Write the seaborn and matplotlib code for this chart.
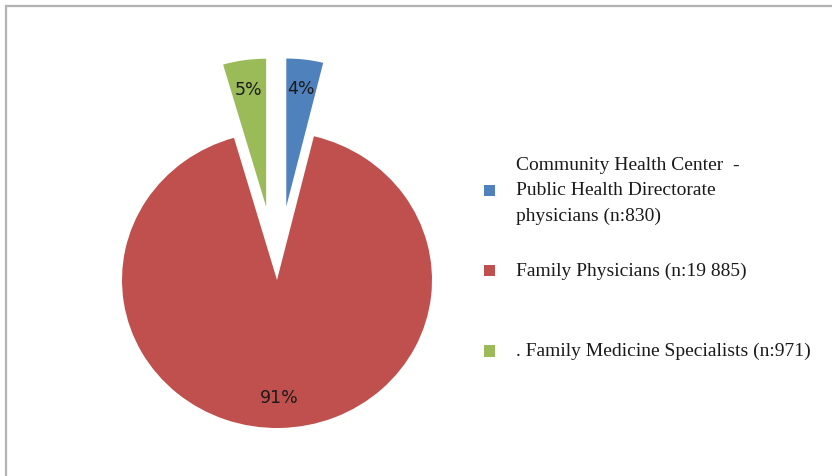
import matplotlib
matplotlib.use("Agg")
import matplotlib.pyplot as plt
from matplotlib.patches import Patch, Rectangle
import seaborn as sns

sns.set_theme(style="white")

# ---- data ----
categories = [
    "Community Health Center  -\nPublic Health Directorate\nphysicians (n:830)",
    "\nFamily Physicians (n:19 885)\n",
    "\n. Family Medicine Specialists (n:971)\n",
]
counts = [830, 19885, 971]
pct_labels = ["4%", "91%", "5%"]
colors = ["#4F81BD", "#C0504D", "#9BBB59"]
explode = [0.5, 0.0, 0.5]

W, H, DPI = 832, 476, 100
fig = plt.figure(figsize=(W / DPI, H / DPI), dpi=DPI)
fig.patch.set_facecolor("white")
ax = fig.add_axes([0, 0, 1, 1])

wedges, texts = ax.pie(
    counts,
    colors=colors,
    explode=explode,
    startangle=90,
    counterclock=False,
    labels=pct_labels,
    labeldistance=0.8,
    wedgeprops=dict(linewidth=0),
    textprops=dict(fontsize=12.5, color="#1a1a1a", family="DejaVu Sans"),
)
for t in texts:
    t.set_horizontalalignment("center")
    t.set_verticalalignment("center")

# pixel mapping: centre of pie at (277, 280) px from top-left
cx, cy, rx, ry = 277, 280, 155, 148
ax.set_aspect("auto")
ax.set_xlim(-cx / rx, (W - cx) / rx)
ax.set_ylim(-(H - cy) / ry, cy / ry)
ax.axis("off")

handles = [Patch(facecolor=c, edgecolor="none") for c in colors]
leg = fig.legend(
    handles,
    categories,
    loc="center left",
    bbox_to_anchor=(484 / W, 1 - 271 / H),
    frameon=False,
    borderpad=0,
    borderaxespad=0,
    handlelength=0.55,
    handleheight=0.55,
    handletextpad=1.1,
    labelspacing=0.65,
    prop=dict(family="Liberation Serif", size=14),
)
for t in leg.get_texts():
    t.set_linespacing(1.62)
    t.set_color("#1a1a1a")

fig.patches.append(
    Rectangle((6 / W, -0.1), 1.5, (H - 6) / H + 0.1,
              transform=fig.transFigure, fill=False,
              edgecolor="#b3b3b3", linewidth=1.6, zorder=10)
)

fig.savefig("out.png", dpi=DPI, facecolor="white")
